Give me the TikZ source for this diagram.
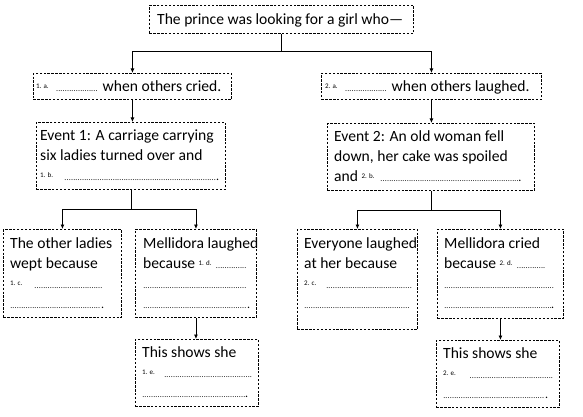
\documentclass[tikz,border=0pt]{standalone}
\usepackage{fontspec}
\setmainfont{Carlito}
\usetikzlibrary{arrows.meta}
\newcommand\lab[1]{\raisebox{3pt}{\fontsize{7}{7}\selectfont #1}}
\newcommand\blank[1]{\null{\fontsize{8}{8}\selectfont\leaders\hbox to 2.2pt{\hss.\hss}\hskip #1pt\relax}\null}
\newcommand\fin{\kern-1pt{\fontsize{12}{12}\selectfont.}}
\newcommand\st{\rule{0pt}{12pt}}
\begin{document}
\begin{tikzpicture}[x=1pt,y=-1pt,
 box/.style={draw, line width=0.9pt, dash pattern=on 2.4pt off 1.5pt, anchor=north west, inner sep=0pt},
 txt/.style={anchor=north west, inner sep=0pt, align=left, font=\fontsize{15.6}{20}\selectfont},
 arr/.style={line width=0.8pt, -{Latex[length=4.5pt,width=4pt]}},
 ln/.style={line width=0.8pt}]
\useasboundingbox[fill=white] (0,0) rectangle (583,417);

% boxes
\node[box, minimum width=264pt, minimum height=28pt] (top) at (149,5) {};
\node[box, minimum width=198pt, minimum height=26pt] (a1) at (33,73) {};
\node[box, minimum width=220pt, minimum height=26pt] (a2) at (321,73) {};
\node[box, minimum width=189pt, minimum height=67pt] (ev1) at (36,122) {};
\node[box, minimum width=207pt, minimum height=67pt] (ev2) at (327,123) {};
\node[box, minimum width=118pt, minimum height=88pt] (c1) at (3,229) {};
\node[box, minimum width=121pt, minimum height=88pt] (d1) at (135,229) {};
\node[box, minimum width=120pt, minimum height=100pt] (c2) at (297,229) {};
\node[box, minimum width=126pt, minimum height=89pt] (d2) at (437,229) {};
\node[box, minimum width=123pt, minimum height=67pt] (e1) at (135,339) {};
\node[box, minimum width=123pt, minimum height=67pt] (e2) at (436,340) {};

% texts
\node[txt] (topt) at (157,12) {\st The prince was looking for a girl who—};
\node[txt] (a1t) at (36,79) {\st\lab{1. a.}\hspace{6pt}\blank{45}\hspace{3pt}when others cried.};
\node[txt] (a2t) at (325,79) {\st\lab{2. a.}\hspace{6pt}\blank{45}\hspace{3pt}when others laughed.};
\node[txt] (ev1t) at (40,128) {\st Event 1: A carriage carrying\\six ladies turned over and\\\lab{1. b.}\hspace{10pt}\blank{154}\fin};
\node[txt] (ev2t) at (334,129) {\st Event 2: An old woman fell\\down, her cake was spoiled\\and \lab{2. b.}\hspace{5pt}\blank{140}\fin};
\node[txt] (c1t) at (10,236) {\st The other ladies\\wept because\\\lab{1. c.}\hspace{10pt}\blank{72}\\\blank{92}\fin};
\node[txt] (d1t) at (143,236) {\st Mellidora laughed\\because \lab{1. d.}\hspace{4pt}\blank{33}\\\blank{105}\\\blank{105}\fin};
\node[txt] (c2t) at (304,236) {\st Everyone laughed\\at her because\\\lab{2. c.}\hspace{8pt}\blank{88}\\\blank{106}};
\node[txt] (d2t) at (444,236) {\st Mellidora cried\\because \lab{2. d.}\hspace{4pt}\blank{30}\\\blank{110}\\\blank{108}\fin};
\node[txt] (e1t) at (142,345) {\st This shows she\\\lab{1. e.}\hspace{8pt}\blank{90}\\\blank{104}\fin};
\node[txt] (e2t) at (443,346) {\st This shows she\\\lab{2. e.}\hspace{12pt}\blank{87}\\\blank{103}\fin};

% connectors
\draw[ln] (top.south) -- ++(0,18) coordinate (j0);
\draw[arr] (j0) -| (a1.north);
\draw[arr] (j0) -| (a2.north);
\draw[arr] (a1.south) -- (a1.south |- ev1.north);
\draw[arr] (a2.south) -- (a2.south |- ev2.north);
\draw[ln] (ev1.south) -- ++(0,19) coordinate (j1);
\draw[arr] (j1) -| (c1.north);
\draw[arr] (j1) -| (d1.north);
\draw[ln] (ev2.south) -- ++(0,19) coordinate (j2);
\draw[arr] (j2) -| (c2.north);
\draw[arr] (j2) -| (d2.north);
\draw[arr] (d1.south) -- (d1.south |- e1.north);
\draw[arr] (d2.south) -- (d2.south |- e2.north);
\end{tikzpicture}
\end{document}
